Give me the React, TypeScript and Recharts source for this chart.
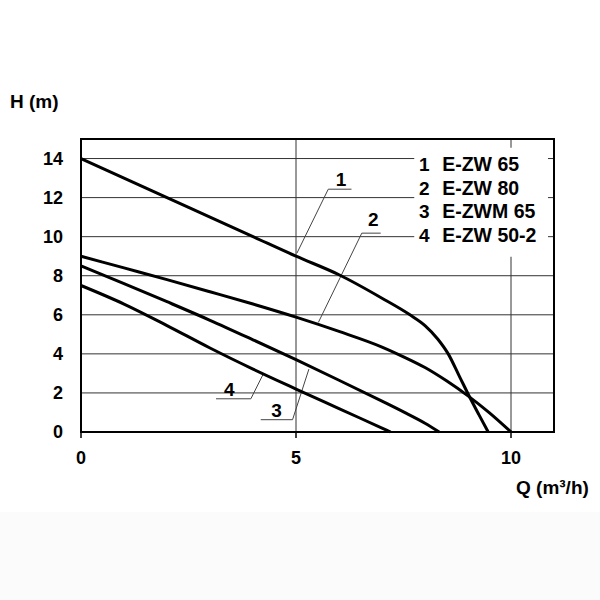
import React from 'react';
import { LineChart, Line, XAxis, YAxis, CartesianGrid, ReferenceArea, ReferenceLine, ReferenceDot } from 'recharts';

// Pump curves H (m) against Q (m³/h)
const q1 = [0, 1, 2, 3, 4, 5, 6, 7, 7.65, 8.0, 8.3, 8.54, 8.8, 9.05, 9.25, 9.47];
const h1 = [14, 13, 12, 11, 10, 9, 8.05, 6.85, 6.0, 5.45, 4.75, 4.0, 2.85, 1.74, 0.9, 0];

const q2 = [0, 1, 2, 3, 4, 5, 6, 7, 7.5, 8, 8.5, 9, 9.5, 10];
const h2 = [9, 8.4, 7.8, 7.18, 6.55, 5.88, 5.15, 4.35, 3.85, 3.3, 2.62, 1.85, 0.98, 0];

const q3 = [0, 1, 2, 3, 4, 5, 6, 7, 7.5, 8, 8.33];
const h3 = [8.5, 7.6, 6.67, 5.72, 4.72, 3.7, 2.65, 1.58, 1.03, 0.45, 0];

const q4 = [0, 1, 2, 3, 4, 5, 6, 7, 7.2];
const h4 = [7.5, 6.55, 5.45, 4.3, 3.22, 2.2, 1.2, 0.2, 0];

const xTicks = [0, 5, 10];
const yTicks = [0, 2, 4, 6, 8, 10, 12, 14];

const legendNumbers = ['1', '2', '3', '4'];
const legendNames = ['E-ZW 65', 'E-ZW 80', 'E-ZWM 65', 'E-ZW 50-2'];

// callout numbers with their leader lines, in chart units
const callouts = [
  { n: '1', at: [6.05, 12.96], bar: [5.75, 6.29, 12.43], tip: [5.75, 12.43, 5.02, 9.15] },
  { n: '2', at: [6.8, 10.9], bar: [6.53, 6.97, 10.18], tip: [6.53, 10.18, 5.52, 5.61] },
  { n: '3', at: [4.55, 1.1], bar: [4.18, 4.92, 0.63], tip: [4.92, 0.63, 5.3, 3.22] },
  { n: '4', at: [3.45, 2.2], bar: [3.14, 3.95, 1.7], tip: [3.95, 1.7, 4.23, 2.93] },
];

const toPoints = (qs: number[], hs: number[]) => qs.map((q, i) => ({ q, h: hs[i] }));
const curves = [toPoints(q1, h1), toPoints(q2, h2), toPoints(q3, h3), toPoints(q4, h4)];

const FONT = 'Arial, "Liberation Sans", Helvetica, sans-serif';

const Tag = (props: any) => {
  const { viewBox, text, anchor = 'middle', size = 18 } = props;
  const x = viewBox.x + (viewBox.width || 0) / 2;
  const y = viewBox.y + (viewBox.height || 0) / 2;
  return (
    <text x={x} y={y} dy="0.36em" textAnchor={anchor} fontSize={size} fontWeight="bold" fontFamily={FONT} fill="#000">
      {text}
    </text>
  );
};

export default function App() {
  return (
    <div style={{ position: 'absolute', left: 0, top: 0, width: 600, height: 600, background: '#fff', fontFamily: FONT }}>
      <div style={{ position: 'absolute', left: 0, top: 512, width: 600, height: 88, background: '#fbfbfb' }} />
      <div style={{ position: 'absolute', left: 10, top: 92, fontSize: 19, fontWeight: 'bold', lineHeight: '19px' }}>H (m)</div>
      <div style={{ position: 'absolute', left: 516, top: 478, fontSize: 19, fontWeight: 'bold', lineHeight: '19px' }}>
        Q (m³/h)
      </div>
      <LineChart width={600} height={600} margin={{ top: 139, right: 46, left: 21, bottom: 138 }}>
        <CartesianGrid stroke="#333" strokeWidth={1} />
        <XAxis
          dataKey="q"
          type="number"
          domain={[0, 11]}
          ticks={xTicks}
          height={30}
          axisLine={false}
          tickLine={{ stroke: '#000', strokeWidth: 1.5 }}
          tickSize={6}
          tickMargin={13}
          tick={{ fill: '#000', fontSize: 18, fontWeight: 'bold', fontFamily: FONT }}
        />
        <YAxis
          type="number"
          domain={[0, 15]}
          ticks={yTicks}
          width={60}
          axisLine={false}
          tickLine={false}
          tickMargin={12}
          tick={{ fill: '#000', fontSize: 18, fontWeight: 'bold', fontFamily: FONT }}
        />
        <ReferenceArea x1={0} x2={11} y1={0} y2={15} fill="none" stroke="#000" strokeWidth={2} />
        <ReferenceArea x1={7.75} x2={10.86} y1={8.97} y2={14.55} fill="#fff" fillOpacity={1} stroke="none" />
        {legendNumbers.map((n, i) => (
          <ReferenceDot key={'ln' + n} x={7.86} y={13.7 - i * 1.2} r={1} fill="none" stroke="none"
            label={<Tag text={n} anchor="start" size={19} />} />
        ))}
        {legendNames.map((name, i) => (
          <ReferenceDot key={'lt' + name} x={8.4} y={13.7 - i * 1.2} r={1} fill="none" stroke="none"
            label={<Tag text={name} anchor="start" size={19.5} />} />
        ))}
        {callouts.map((c) => (
          <ReferenceLine key={'b' + c.n} segment={[{ x: c.bar[0], y: c.bar[2] }, { x: c.bar[1], y: c.bar[2] }]}
            stroke="#444" strokeWidth={1} />
        ))}
        {callouts.map((c) => (
          <ReferenceLine key={'t' + c.n} segment={[{ x: c.tip[0], y: c.tip[1] }, { x: c.tip[2], y: c.tip[3] }]}
            stroke="#444" strokeWidth={1} />
        ))}
        {callouts.map((c) => (
          <ReferenceDot key={'c' + c.n} x={c.at[0]} y={c.at[1]} r={1} fill="none" stroke="none"
            label={<Tag text={c.n} size={19} />} />
        ))}
        {curves.map((data, i) => (
          <Line key={i} data={data} dataKey="h" type="monotone" stroke="#000" strokeWidth={3}
            dot={false} isAnimationActive={false} />
        ))}
      </LineChart>
    </div>
  );
}
